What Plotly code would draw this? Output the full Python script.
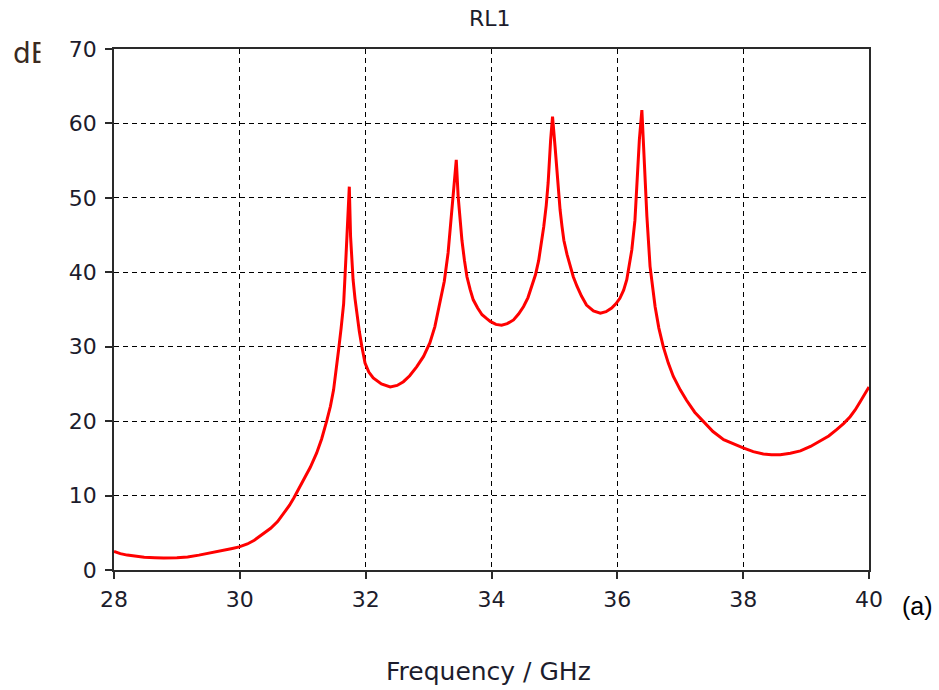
import plotly.graph_objects as go

# Return loss RL1 over the sweep (GHz, dB)
freq_ghz = [
    28.00, 28.10, 28.21, 28.35, 28.48, 28.65, 28.79, 29.00, 29.17, 29.35,
    29.48, 29.62, 29.75, 29.88, 29.99, 30.12, 30.23, 30.37, 30.49, 30.60,
    30.70, 30.79, 30.86, 30.94, 31.02, 31.12, 31.22, 31.30, 31.38, 31.44,
    31.49, 31.53, 31.57, 31.61, 31.65, 31.69, 31.72, 31.74, 31.76, 31.78,
    31.80, 31.83, 31.86, 31.90, 31.94, 31.99, 32.05, 32.12, 32.25, 32.39,
    32.50, 32.60, 32.70, 32.81, 32.92, 33.02, 33.10, 33.18, 33.25, 33.31,
    33.38, 33.42, 33.44, 33.47, 33.50, 33.53, 33.57, 33.61, 33.66, 33.71,
    33.78, 33.85, 33.92, 33.98, 34.07, 34.16, 34.25, 34.35, 34.43, 34.51,
    34.58, 34.64, 34.70, 34.75, 34.79, 34.83, 34.87, 34.90, 34.94, 34.97,
    35.01, 35.05, 35.09, 35.12, 35.15, 35.20, 35.25, 35.30, 35.36, 35.43,
    35.51, 35.62, 35.73, 35.82, 35.91, 35.98, 36.04, 36.10, 36.15, 36.19,
    36.23, 36.28, 36.32, 36.35, 36.39, 36.43, 36.47, 36.52, 36.56, 36.60,
    36.66, 36.73, 36.81, 36.89, 37.00, 37.10, 37.23, 37.37, 37.52, 37.69,
    37.85, 38.00, 38.16, 38.32, 38.45, 38.59, 38.75, 38.91, 39.07, 39.22,
    39.36, 39.49, 39.60, 39.70, 39.78, 39.86, 39.93, 40.00,
]
rl_db = [
    2.5, 2.2, 2.0, 1.8, 1.7, 1.65, 1.6, 1.65, 1.75, 2.0,
    2.2, 2.45, 2.7, 2.9, 3.1, 3.5, 4.0, 4.8, 5.6, 6.5,
    7.6, 8.7, 9.7, 10.9, 12.1, 13.8, 15.7, 17.6, 20.0, 22.0,
    24.2, 26.6, 29.6, 32.5, 35.8, 42.6, 48.0, 51.5, 44.8, 41.5,
    39.0, 36.5, 34.5, 32.0, 30.0, 27.8, 26.6, 25.8, 25.0, 24.6,
    24.8, 25.3, 26.1, 27.3, 28.7, 30.5, 32.7, 35.8, 38.8, 42.6,
    49.3, 53.5, 55.1, 50.2, 47.0, 44.3, 41.6, 39.4, 37.7, 36.3,
    35.2, 34.3, 33.8, 33.4, 33.0, 32.9, 33.1, 33.6, 34.4, 35.4,
    36.6, 38.1, 39.7, 41.6, 43.7, 46.1, 49.0, 52.0, 57.8, 60.9,
    56.9, 52.0, 48.4, 46.2, 44.3, 42.4, 40.8, 39.4, 38.1, 36.8,
    35.6, 34.8, 34.5, 34.7, 35.2, 35.8, 36.5, 37.6, 39.0, 40.8,
    43.0, 47.0, 52.8, 57.8, 61.8, 54.2, 47.5, 40.8, 37.8, 35.4,
    32.5, 30.0, 27.8, 26.0, 24.2, 22.8, 21.2, 19.9, 18.6, 17.5,
    16.9, 16.4, 15.9, 15.6, 15.5, 15.5, 15.7, 16.0, 16.6, 17.3,
    18.0, 18.9, 19.7, 20.6, 21.5, 22.6, 23.6, 24.6,
]

x_ticks = [28, 30, 32, 34, 36, 38, 40]
y_ticks = [0, 10, 20, 30, 40, 50, 60, 70]

FONT = "DejaVu Sans"
TEXT = "#1c1c2c"

fig = go.Figure(
    go.Scatter(
        x=freq_ghz, y=rl_db, mode="lines",
        line=dict(color="#ff0000", width=3),
        showlegend=False, hoverinfo="x+y",
    )
)

axis_common = dict(
    showline=True, linecolor="#2a2a2a", linewidth=1.5, mirror=True,
    ticks="outside", ticklen=7, tickwidth=1.5, tickcolor="#2a2a2a",
    showgrid=True, gridcolor="#000000", gridwidth=1.2, griddash="5px,4px",
    zeroline=False,
    tickfont=dict(family=FONT, size=22, color=TEXT),
)

fig.update_xaxes(range=[28, 40], tickvals=x_ticks, ticklabelstandoff=2,
                 **axis_common)
fig.update_yaxes(range=[0, 70], tickvals=y_ticks, ticklabelstandoff=4,
                 **axis_common)

fig.update_layout(
    width=939, height=690,
    margin=dict(l=114, r=70, t=49, b=120),
    paper_bgcolor="white", plot_bgcolor="white",
    font=dict(family=FONT, color=TEXT),
    annotations=[
        dict(text="RL1", xref="paper", yref="paper", x=0.498, y=1.0,
             yshift=31, xanchor="center", yanchor="middle", showarrow=False,
             font=dict(family=FONT, size=22, color=TEXT)),
        dict(text="Frequency / GHz", xref="paper", yref="paper", x=0.496,
             y=0, yshift=-101, xanchor="center", yanchor="middle",
             showarrow=False, font=dict(family=FONT, size=25, color=TEXT)),
        dict(text="(a)", xref="paper", yref="paper", x=1.0, xshift=48,
             y=0, yshift=-36, xanchor="center", yanchor="middle",
             showarrow=False,
             font=dict(family="Liberation Sans", size=25, color="#000000")),
        dict(text="dB", xref="paper", yref="paper", x=0, xshift=-103,
             y=1.0, yshift=-4, xanchor="left", yanchor="middle",
             showarrow=False,
             font=dict(family=FONT, size=28, color="#3a2a22")),
        # white mask trimming the right edge of the unit label
        dict(text=" ", xref="paper", yref="paper", x=0, xshift=-74,
             y=1.0, yshift=-4, xanchor="left", yanchor="middle",
             showarrow=False, width=22, height=36, bgcolor="white",
             font=dict(size=10)),
    ],
)

fig.write_html("out.html")
